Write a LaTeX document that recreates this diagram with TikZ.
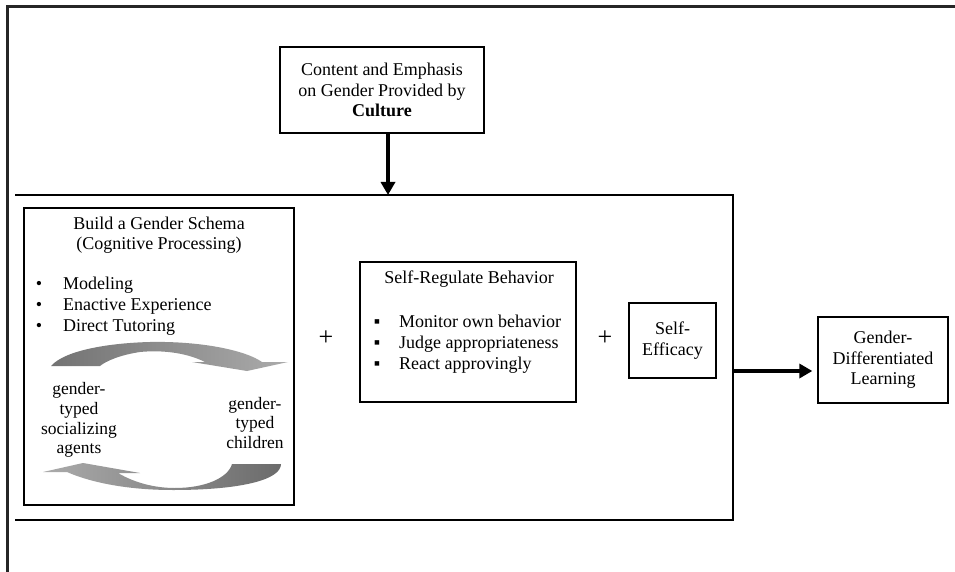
\documentclass[tikz,border=0pt]{standalone}
\usepackage{fontspec}
\setmainfont{Liberation Serif}
\usetikzlibrary{arrows.meta}
\begin{document}
\begin{tikzpicture}[x=1pt,y=-1pt,
  txt/.style={font=\fontsize{18}{21}\selectfont, inner sep=0pt, align=center},
  box/.style={draw=black, line width=1.3pt, inner sep=0pt},
  bigarrow/.style={line width=3.5pt, -{Triangle[length=13pt,width=14pt]}},
  plussign/.style={font=\fontsize{26}{26}\selectfont, inner sep=0pt}]
\useasboundingbox (0,0) rectangle (955,572);
\fill[white] (0,0) rectangle (955,572);
% outer frame (only top and left edges visible)
\draw[line width=3pt, color=black!85] (7.5,572) -- (7.5,7) -- (955,7);
% big enclosing rectangle (top, right, bottom)
\draw[line width=1.4pt] (15,195) -- (733,195) -- (733,520) -- (15,520);
\coordinate (cin) at (388,195);
\coordinate (cout) at (733,371);

% culture box
\node[box, txt, font=\fontsize{18}{20.5}\selectfont, minimum width=204pt, minimum height=86pt] (culture) at (382,90)
  {Content and Emphasis\\on Gender Provided by\\\textbf{Culture}};
\draw[bigarrow] (culture.south -| cin) -- (cin);

% gender schema box
\node[box, minimum width=270pt, minimum height=297pt] (schema) at (159,356.5) {};
\node[txt, font=\fontsize{18}{20}\selectfont] (schematitle) at (159,235) {Build a Gender Schema\\(Cognitive Processing)};
\node[txt, anchor=base] (sb1) at (39,289) {•};
\node[txt, anchor=base] (sb2) at (39,310) {•};
\node[txt, anchor=base] (sb3) at (39,331) {•};
\node[txt, anchor=base west] (si1) at (63,289) {Modeling};
\node[txt, anchor=base west] (si2) at (63,310) {Enactive Experience};
\node[txt, anchor=base west] (si3) at (63,331) {Direct Tutoring};

% curved block arrows
\shade[left color=black!55, right color=black!33]
  (51,366) .. controls (65,350) and (110,343) .. (150,342)
  .. controls (200,341) and (245,350) .. (262,362)
  -- (288,362) -- (247,371) -- (192,362) -- (205,362)
  .. controls (185,352) and (160,350) .. (140,352)
  .. controls (120,355) and (106,361) .. (100,366) -- cycle;
\shade[left color=black!33, right color=black!58]
  (232,464) -- (281,464) .. controls (281,480) and (240,490) .. (173,490)
  .. controls (120,490) and (85,480) .. (67,472)
  -- (43,472) -- (83,463) -- (140,473) -- (118,473)
  .. controls (135,483) and (155,488) .. (175,488)
  .. controls (205,488) and (228,478) .. (232,464) -- cycle;

\node[txt, font=\fontsize{17.5}{19.8}\selectfont] (agents) at (79,420) {gender-\\typed\\socializing\\agents};
\node[txt, font=\fontsize{17.5}{19.8}\selectfont] (children) at (255,423) {gender-\\typed\\children};

% plus signs
\node[plussign] (plus1) at (326,338) {+};
\node[plussign] (plus2) at (605,338) {+};

% self-regulate box
\node[box, minimum width=216pt, minimum height=140pt] (selfreg) at (468,332) {};
\node[txt] (selfregtitle) at (469,279) {Self-Regulate Behavior};
\node[txt, anchor=base] (rb1) at (377,327) {▪};
\node[txt, anchor=base] (rb2) at (377,348) {▪};
\node[txt, anchor=base] (rb3) at (377,369) {▪};
\node[txt, anchor=base west] (ri1) at (399,327) {Monitor own behavior};
\node[txt, anchor=base west] (ri2) at (399,348) {Judge appropriateness};
\node[txt, anchor=base west] (ri3) at (399,369) {React approvingly};

% self-efficacy box
\node[box, txt, minimum width=87pt, minimum height=75pt] (efficacy) at (672.5,340.5) {Self-\\Efficacy};

% outcome box
\node[box, txt, font=\fontsize{18}{20.5}\selectfont, minimum width=130pt, minimum height=86pt] (gdl) at (883,360)
  {Gender-\\Differentiated\\Learning};
\draw[bigarrow, shorten >=5pt] (cout) -- (gdl.west |- cout);
\end{tikzpicture}
\end{document}
